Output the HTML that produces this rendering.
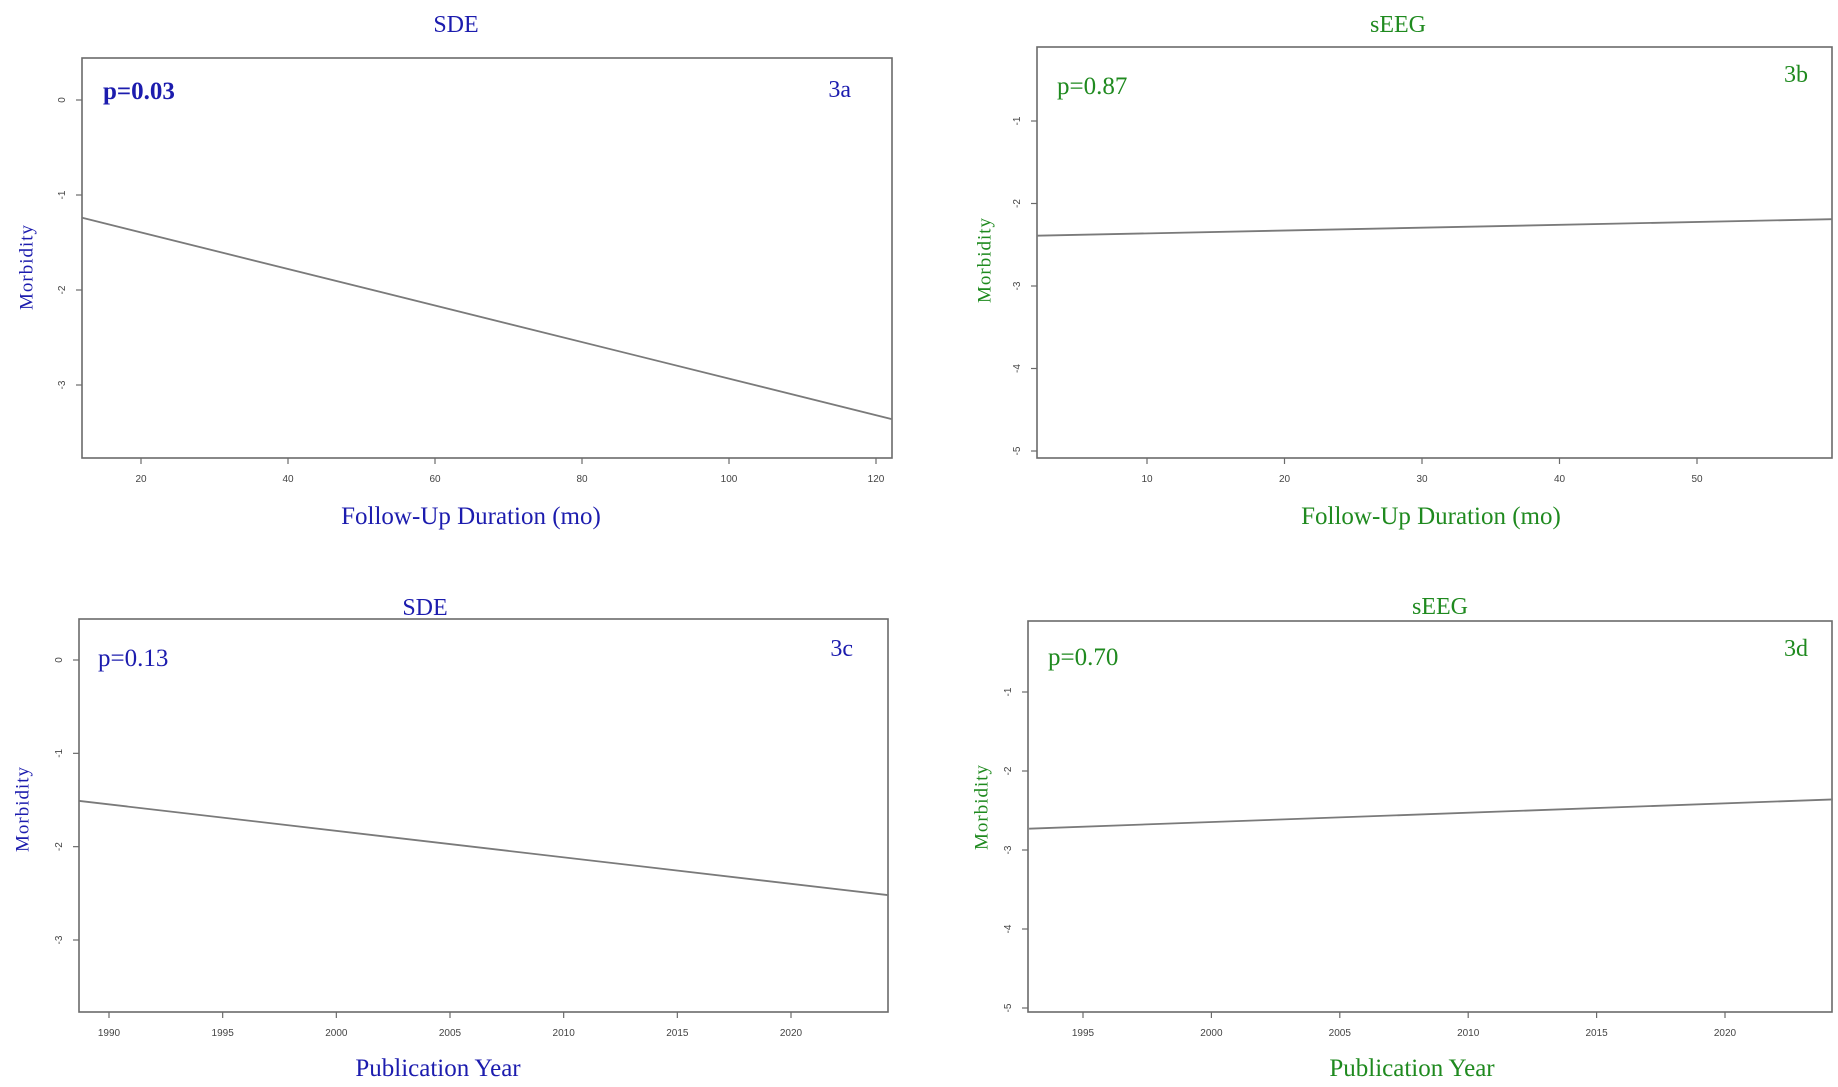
<!DOCTYPE html>
<html><head><meta charset="utf-8"><style>
html,body{margin:0;padding:0;background:#fff;}
svg{display:block;}
text{font-family:"Liberation Serif",serif;}
.tick{font-family:"Liberation Sans",sans-serif;font-size:10px;fill:#444;}
</style></head><body>
<svg id="fig" width="1838" height="1087" viewBox="0 0 1838 1087"></svg>
<script>
// Data (regression lines: endpoints in data units)
const aX = [12, 122.2];
const aY = [-1.24, -3.36];
const bX = [2.0, 59.8];
const bY = [-2.39, -2.19];
const cX = [1988.7, 2024.3];
const cY = [-1.51, -2.52];
const dX = [1992.9, 2024.2];
const dY = [-2.73, -2.36];
const aXTicks = [20, 40, 60, 80, 100, 120];
const aYTicks = [0, -1, -2, -3];
const bXTicks = [10, 20, 30, 40, 50];
const bYTicks = [-1, -2, -3, -4, -5];
const cXTicks = [1990, 1995, 2000, 2005, 2010, 2015, 2020];
const cYTicks = [0, -1, -2, -3];
const dXTicks = [1995, 2000, 2005, 2010, 2015, 2020];
const dYTicks = [-1, -2, -3, -4, -5];
const titles = ["SDE", "sEEG", "SDE", "sEEG"];
const pvals = ["p=0.03", "p=0.87", "p=0.13", "p=0.70"];
const tags = ["3a", "3b", "3c", "3d"];
const xlabels = ["Follow-Up Duration (mo)", "Follow-Up Duration (mo)", "Publication Year", "Publication Year"];

const NS = "http://www.w3.org/2000/svg";
const svg = document.getElementById('fig');
const BLUE = "#1c1cae", GREEN = "#1f8a1f";

const panels = [
 {id:'a', xs:aX, ys:aY, xt:aXTicks, yt:aYTicks, L:82, R:892, T:58, B:458, xd:[20,120], xp:[141,876], yd:[0,-3], yp:[100,385], col:BLUE, tx:456, ty:24, px:103, py:99, bold:true, gx:851, gy:97, lx:471, ly:524, mx:26, my:267},
 {id:'b', xs:bX, ys:bY, xt:bXTicks, yt:bYTicks, L:1037, R:1832, T:47, B:458, xd:[10,50], xp:[1147,1697], yd:[-1,-5], yp:[121,451], col:GREEN, tx:1398, ty:24, px:1057, py:94, bold:false, gx:1808, gy:82, lx:1431, ly:524, mx:984, my:260},
 {id:'c', xs:cX, ys:cY, xt:cXTicks, yt:cYTicks, L:79, R:888, T:619, B:1012, xd:[1990,2020], xp:[109,791], yd:[0,-3], yp:[660,940], col:BLUE, tx:425, ty:607, px:98, py:666, bold:false, gx:853, gy:656, lx:438, ly:1076, mx:22, my:809},
 {id:'d', xs:dX, ys:dY, xt:dXTicks, yt:dYTicks, L:1028, R:1832, T:621, B:1012, xd:[1995,2020], xp:[1083,1725], yd:[-1,-5], yp:[692,1008], col:GREEN, tx:1440, ty:606, px:1048, py:665, bold:false, gx:1808, gy:656, lx:1412, ly:1076, mx:981, my:807}
];

function el(tag, attrs, parent, txt){
  const e = document.createElementNS(NS, tag);
  for (const k in attrs) e.setAttribute(k, attrs[k]);
  if (txt !== undefined) e.textContent = txt;
  parent.appendChild(e);
  return e;
}

panels.forEach((p, i) => {
  const sx = v => p.xp[0] + (v - p.xd[0]) * (p.xp[1] - p.xp[0]) / (p.xd[1] - p.xd[0]);
  const sy = v => p.yp[0] + (v - p.yd[0]) * (p.yp[1] - p.yp[0]) / (p.yd[1] - p.yd[0]);
  const g = el('g', {}, svg);
  
  

  const t = el('text', {x:p.tx, y:p.ty+8, 'text-anchor':'middle', 'font-size':24, fill:p.col}, g, titles[i]);
  
  

  const box = el('rect', {x:p.L, y:p.T, width:p.R-p.L, height:p.B-p.T, fill:'none', stroke:'#6a6a6a', 'stroke-width':1.6}, g);
  
  

  p.xt.forEach(v => {
    const x = sx(v);
    const tk = el('line', {x1:x, x2:x, y1:p.B, y2:p.B+6, stroke:'#6a6a6a', 'stroke-width':1.2}, g);
    
    
    const lb = el('text', {x:x, y:p.B+24, 'text-anchor':'middle', class:'tick'}, g, String(v));
    
    
  });
  p.yt.forEach(v => {
    const y = sy(v);
    const tk = el('line', {x1:p.L-6, x2:p.L, y1:y, y2:y, stroke:'#6a6a6a', 'stroke-width':1.2}, g);
    
    
    const lb = el('text', {x:p.L-17, y:y, 'text-anchor':'middle', class:'tick', transform:'rotate(-90 '+(p.L-17)+' '+y+')'}, g, String(v));
    
    
  });

  const ln = el('line', {x1:sx(p.xs[0]), y1:sy(p.ys[0]), x2:sx(p.xs[1]), y2:sy(p.ys[1]), stroke:'#7a7a7a', 'stroke-width':1.8}, g);
  
  

  const pv = el('text', {x:p.px, y:p.py, 'font-size':25, fill:p.col, 'font-weight':p.bold?'bold':'normal'}, g, pvals[i]);
  
  

  const tg = el('text', {x:p.gx, y:p.gy, 'text-anchor':'end', 'font-size':24, fill:p.col}, g, tags[i]);
  
  

  const xl = el('text', {x:p.lx, y:p.ly, 'text-anchor':'middle', 'font-size':25, fill:p.col}, g, xlabels[i]);
  
  

  const yl = el('text', {x:p.mx, y:p.my, 'text-anchor':'middle', 'font-size':19, 'letter-spacing':'1', fill:p.col, transform:'rotate(-90 '+p.mx+' '+p.my+')', dy:'0.35em'}, g, 'Morbidity');
  
  
});
</script>
</body></html>
